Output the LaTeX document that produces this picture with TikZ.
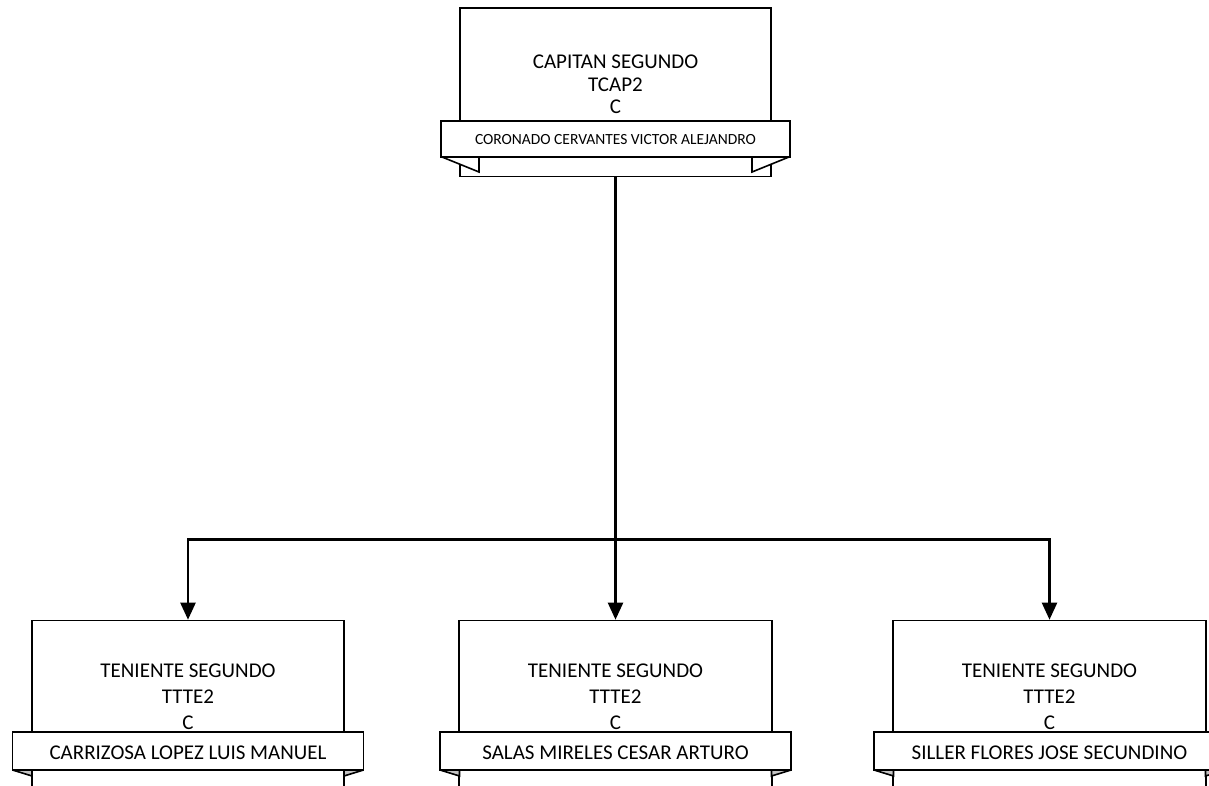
\documentclass[tikz,border=0pt]{standalone}
\usepackage{fontspec}
\setmainfont{Carlito}
\usetikzlibrary{arrows.meta,calc}
\definecolor{foldgray}{RGB}{196,196,196}
\tikzset{
  posbox/.style={draw=black, line width=1.6pt, fill=white, rectangle, inner sep=0pt},
  banner/.style={draw=black, line width=1.6pt, fill=white, rectangle, inner sep=0pt},
  postext/.style={align=center, anchor=base, inner sep=0pt, font=\fontsize{21}{26}\selectfont},
  toptext/.style={align=center, anchor=base, inner sep=0pt, font=\fontsize{21}{22.5}\selectfont},
  nametext/.style={anchor=base, inner sep=0pt},
  fold/.style={draw=black, line width=1.6pt, line join=miter},
  link/.style={draw=black, line width=2.3pt},
  arrowlink/.style={link, -{Triangle[length=17pt,width=15pt]}}
}
\begin{document}
\begin{tikzpicture}[x=1pt,y=-1pt]
\useasboundingbox (0,0) rectangle (1209,786);
\clip (0,0) rectangle (1209,786);
% top position
\node[posbox, minimum width=311pt, minimum height=168.5pt] (top) at (615.5,92.25) {};
\filldraw[fold, fill=white] (442,157) -- ++(37,15) -- ++(0,-15);
\filldraw[fold, fill=white] (789,157) -- ++(-37,15) -- ++(0,-15);
\node[banner, minimum width=348.5pt, minimum height=36pt] (topb) at (615.5,139) {};
\node[toptext] (toptxt) at (615.5,114) {CAPITAN SEGUNDO\\TCAP2\\C};
\node[nametext, font=\fontsize{15.5}{18}\selectfont] (topname) at (615.5,145) {CORONADO CERVANTES VICTOR ALEJANDRO};
% children
\foreach \n/\cx/\nm in {c1/188/{CARRIZOSA LOPEZ LUIS MANUEL}, c2/615.5/{SALAS MIRELES CESAR ARTURO}, c3/1049.5/{SILLER FLORES JOSE SECUNDINO}}{
  \node[posbox, minimum width=312.5pt, minimum height=200pt] (\n) at (\cx,720.5) {};
  \path (\cx,751) coordinate (\n bc);
  \filldraw[fold, fill=foldgray] ($(\n bc)+(-175.5,19)$) -- ++(19.5,6) -- ++(0,-6);
  \filldraw[fold, fill=foldgray] ($(\n bc)+(175.5,19)$) -- ++(-19.5,6) -- ++(0,-6);
  \node[banner, minimum width=351pt, minimum height=38pt] (\n b) at (\cx,751) {};
  \node[postext] (\n t) at (\cx,729) {TENIENTE SEGUNDO\\TTTE2\\C};
  \node[nametext, font=\fontsize{21}{24}\selectfont] (\n n) at (\cx,759) {\nm};
}
% connectors
\coordinate (bus) at (615.5,539.5);
\draw[link] (top.south) -- (bus);
\draw[arrowlink] (bus) -| (c1.north);
\draw[arrowlink] (bus) -- (c2.north);
\draw[arrowlink] (bus) -| (c3.north);
\end{tikzpicture}
\end{document}
